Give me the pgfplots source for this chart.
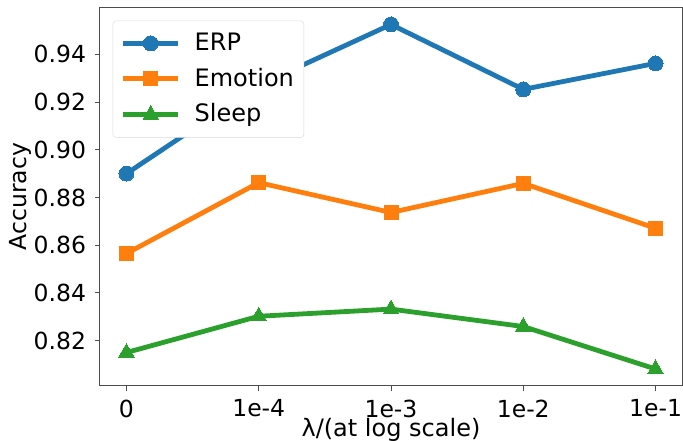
\documentclass[border=0pt]{standalone}
\usepackage{fontspec}
\setmainfont{DejaVu Sans}
\usepackage{pgfplots}
\pgfplotsset{compat=1.18}
\definecolor{tabblue}{HTML}{1F77B4}
\definecolor{taborange}{HTML}{FF7F0E}
\definecolor{tabgreen}{HTML}{2CA02C}
\begin{document}
\begin{tikzpicture}
\fontsize{23.5}{27}\selectfont
\begin{axis}[
    name=ax,
    at={(0,0)}, anchor=south west,
    scale only axis,
    width=582pt,
    height=378.4pt,
    xmin=-0.2, xmax=4.2,
    ymin=0.8011, ymax=0.9597,
    xtick={0,1,2,3,4},
    xticklabels={0,1e-4,1e-3,1e-2,1e-1},
    ytick={0.82,0.84,0.86,0.88,0.90,0.92,0.94},
    yticklabel style={/pgf/number format/fixed, /pgf/number format/fixed zerofill, /pgf/number format/precision=2, xshift=-1pt},
    /pgf/number format/assume math mode=true,
    tick pos=left,
    tick align=outside,
    major tick length=5pt,
    every tick/.style={black!70, line width=0.8pt},
    axis line style={black!70, line width=1pt},
    ticklabel style={font=\fontsize{23.5}{27}\selectfont},
    xticklabel style={yshift=-1pt},
    xlabel={λ/(at log scale)},
    ylabel={Accuracy},
    xlabel style={font=\fontsize{24}{27}\selectfont, yshift=15pt},
    ylabel style={font=\fontsize{23.5}{27}\selectfont, yshift=-14pt},
    legend style={
        at={(0,1)}, anchor=north west, xshift=12.7pt, yshift=-13.4pt,
        draw=black!15, fill=white,
        rounded corners=3pt, font=\fontsize{24}{28}\selectfont,
        row sep=10pt, column sep=12pt, inner xsep=8pt, inner ysep=10pt,
    },
    legend cell align=left,
    legend image code/.code={
        \draw[mark repeat=2,mark phase=2] plot coordinates {(0pt,0pt)(27.5pt,0pt)(55pt,0pt)};
    },
]
\addplot[color=tabblue, line width=4.8pt, mark=*, mark size=7.5pt, mark options={solid, draw=tabblue, fill=tabblue, line width=0pt}]
    coordinates {(0,0.890)(1,0.927)(2,0.9525)(3,0.9253)(4,0.9362)};
\addplot[color=taborange, line width=4.8pt, mark=square*, mark size=7pt, mark options={solid, draw=taborange, fill=taborange, line width=0pt}]
    coordinates {(0,0.8565)(1,0.8862)(2,0.8737)(3,0.8859)(4,0.8671)};
\addplot[color=tabgreen, line width=4.8pt, mark=triangle*, mark size=9pt, mark options={solid, draw=tabgreen, fill=tabgreen, line width=0pt}]
    coordinates {(0,0.815)(1,0.8302)(2,0.8332)(3,0.8259)(4,0.8081)};
\legend{ERP,Emotion,Sleep}
\end{axis}
\pgfresetboundingbox
\path[use as bounding box] (-100pt,-55.3pt) rectangle (583pt,385.7pt);
\end{tikzpicture}
\end{document}
